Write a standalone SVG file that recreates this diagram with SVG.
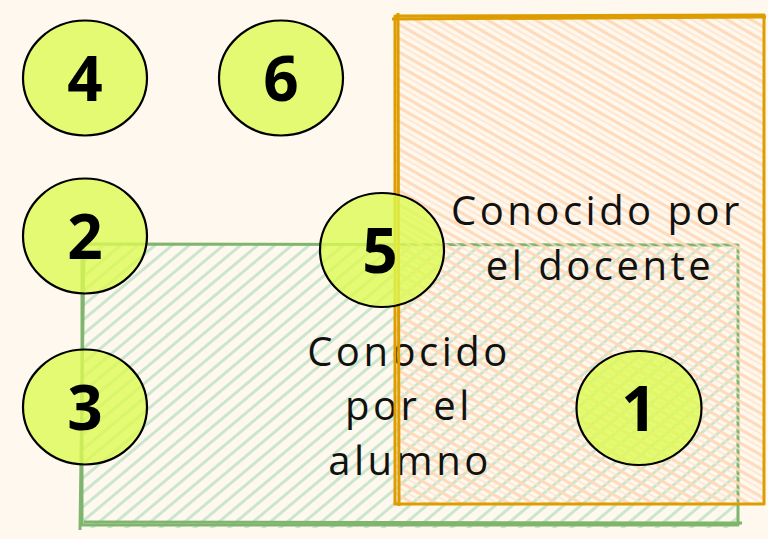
<svg xmlns="http://www.w3.org/2000/svg" width="768" height="539" viewBox="0 0 768 539">
  <style>
    .num { font-family: "Open Sans", "Noto Sans", sans-serif; font-weight: 700; font-size: 62px; fill: #000; text-anchor: middle; }
    .lbl { font-family: "Open Sans", "Noto Sans", sans-serif; font-weight: 500; font-size: 40px; letter-spacing: 3.5px; word-spacing: -1px; fill: #111; text-anchor: middle; }
    .circ { fill: #dcfa52; fill-opacity: 0.8; stroke: #000; stroke-width: 2.2; }
    .gstroke { fill: none; stroke: #7fb56e; stroke-width: 3; stroke-linejoin: round; }
    .ostroke { fill: none; stroke: #dd9c00; stroke-width: 3; stroke-linejoin: round; }
  </style>
  <defs>
    <pattern id="hg" patternUnits="userSpaceOnUse" width="11" height="11" patternTransform="rotate(-40)">
      <rect width="11" height="3" fill="#cae6cc"/>
    </pattern>
    <pattern id="ho" patternUnits="userSpaceOnUse" width="12" height="12" patternTransform="rotate(30)">
      <rect width="12" height="3.2" fill="#ffd8b8"/>
      <rect y="6.5" width="12" height="1.6" fill="#ffe2c9"/>
    </pattern>
  </defs>
  <rect width="768" height="539" fill="#fff8ee"/>

  <g id="alumno">
    <rect x="82" y="244" width="656" height="284" fill="url(#hg)"/>
    <path class="gstroke" d="M82 244 L738 245 L738 525 L82 525 Z"/>
    <path class="gstroke" stroke-width="1.4" d="M80 247 L84 241 M84 248 L80 530 M84 522 L742 523"/>
  </g>

  <g id="docente">
    <rect x="395" y="16" width="369" height="488" fill="url(#ho)" fill-opacity="0.95"/>
    <text class="lbl" x="597" y="225">Conocido por</text>
    <text class="lbl" x="600" y="280">el docente</text>
    <text class="lbl" x="409" y="366">Conocido</text>
    <text class="lbl" x="409" y="420">por el</text>
    <text class="lbl" x="410" y="475">alumno</text>
    <path class="ostroke" d="M395 16 L764 15 L764 504 L395 504 Z"/>
    <path class="ostroke" stroke-width="1.4" d="M398 13 L399 506 M392 19 L766 17"/>
  </g>

  <g id="n4"><ellipse class="circ" cx="85" cy="78" rx="62" ry="57.5"/><text class="num" x="85" y="101">4</text></g>
  <g id="n6"><ellipse class="circ" cx="281" cy="78" rx="62" ry="57.5"/><text class="num" x="281" y="101">6</text></g>
  <g id="n2"><ellipse class="circ" cx="85" cy="236" rx="62" ry="57.5"/><text class="num" x="85" y="259">2</text></g>
  <g id="n3"><ellipse class="circ" cx="85" cy="407" rx="62" ry="57.5"/><text class="num" x="85" y="430">3</text></g>
  <g id="n5"><ellipse class="circ" cx="382" cy="250" rx="62" ry="57"/><text class="num" x="380" y="273">5</text></g>
  <g id="n1"><ellipse class="circ" cx="639" cy="408" rx="62.5" ry="57"/><text class="num" x="639" y="431">1</text></g>

  <g id="connectors"/>
</svg>
